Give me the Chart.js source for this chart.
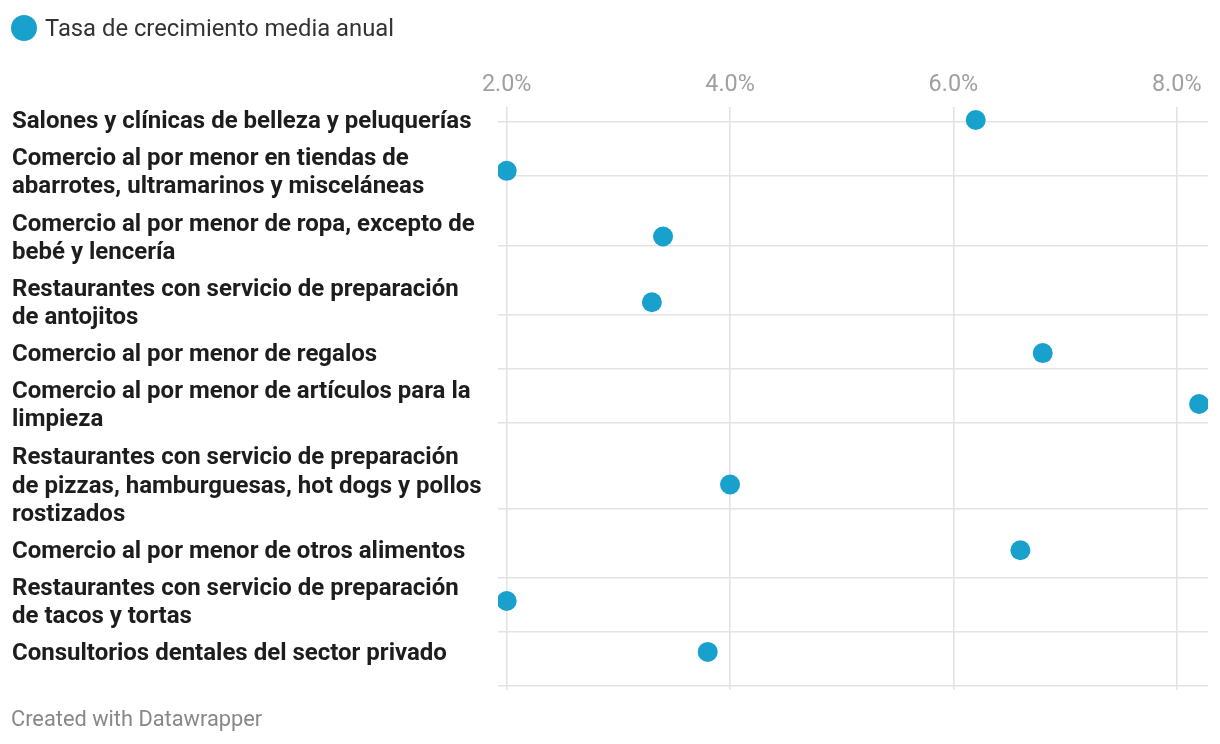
<!DOCTYPE html>
<html>
<head>
<meta charset="utf-8">
<script src="https://cdn.jsdelivr.net/npm/chart.js@4.4.0/dist/chart.umd.min.js"></script>
<style>
  html, body { margin: 0; padding: 0; background: #fff; }
  #wrap { position: relative; width: 1220px; height: 744px; font-family: Roboto, sans-serif; }
  #legend { position: absolute; left: 11px; top: 14px; display: flex; align-items: center; font-size: 23.8px; color: #333; }
  #legend .dot { width: 26px; height: 26px; border-radius: 50%; background: #18a1cd; margin-right: 8px; }
  #footer { position: absolute; left: 11px; top: 706px; font-size: 21.8px; color: #888; }
  #chartBox { position: absolute; left: 0; top: 0; width: 1220px; height: 744px; }
</style>
</head>
<body>
<div id="wrap">
  <div id="chartBox"><canvas id="myChart"></canvas></div>
  <div id="legend"><span class="dot"></span><span>Tasa de crecimiento media anual</span></div>
  <div id="footer">Created with Datawrapper</div>
</div>
<script>
// categorias (cada linea del rotulo como en el original)
var categorias = [
    "Salones y clínicas de belleza y peluquerías",
    ["Comercio al por menor en tiendas de", "abarrotes, ultramarinos y misceláneas"],
    ["Comercio al por menor de ropa, excepto de", "bebé y lencería"],
    ["Restaurantes con servicio de preparación", "de antojitos"],
    "Comercio al por menor de regalos",
    ["Comercio al por menor de artículos para la", "limpieza"],
    ["Restaurantes con servicio de preparación", "de pizzas, hamburguesas, hot dogs y pollos", "rostizados"],
    "Comercio al por menor de otros alimentos",
    ["Restaurantes con servicio de preparación", "de tacos y tortas"],
    "Consultorios dentales del sector privado"
];
var tasa = [6.2, 2.0, 3.4, 3.3, 6.8, 8.2, 4.0, 6.6, 2.0, 3.8];
var ticksX = [2, 4, 6, 8];
var serieNombre = "Tasa de crecimiento media anual";

// posicion vertical de cada fila segun el numero de lineas del rotulo
var lineas = categorias.map(function (c) { return Array.isArray(c) ? c.length : 1; });
function altoFila(n) { return 6.3 + 29.7 * n; }
var centros = [];
var pos = 13;
for (var i = 0; i < lineas.length; i++) {
    if (i > 0) pos += (altoFila(lineas[i - 1]) + altoFila(lineas[i])) / 2;
    centros.push(pos);
}

var puntos = tasa.map(function (v, i) { return { x: v, y: centros[i] }; });

var ctx = document.getElementById("myChart").getContext('2d');

var myChart = new Chart(ctx, {
    type: 'scatter',
    data: {
        datasets: [{
            label: serieNombre,
            data: puntos,
            backgroundColor: "#18a1cd",
            borderWidth: 0,
            pointRadius: 10,
            pointHoverRadius: 10,
            yAxisID: 'y'
        }]
    },
    options: {
        responsive: true,
        maintainAspectRatio: false,
        animation: false,
        layout: { padding: { top: 60, bottom: 54, left: 12, right: 12 } },
        plugins: {
            legend: { display: false },
            tooltip: { enabled: false }
        },
        scales: {
            x: {
                type: 'linear',
                position: 'top',
                min: 1.922,
                max: 8.28,
                afterBuildTicks: function (s) { s.ticks = ticksX.map(function (v) { return { value: v }; }); },
                afterFit: function (s) { s.height = 47; },
                ticks: {
                    padding: 8,
                    color: '#a0a0a0',
                    font: { family: 'Roboto', size: 23.4 },
                    callback: function (v) { return v.toFixed(1) + '%'; }
                },
                grid: { color: '#e3e3e3', lineWidth: 1.6, drawTicks: false },
                border: { display: false }
            },
            y: {
                type: 'linear',
                position: 'left',
                reverse: true,
                min: 0,
                max: 583,
                afterBuildTicks: function (s) { s.ticks = centros.map(function (v) { return { value: v }; }); },
                afterFit: function (s) { s.width = 486; },
                ticks: {
                    autoSkip: false,
                    crossAlign: 'far',
                    labelOffset: 2,
                    color: '#1d1d1d',
                    font: { family: 'Roboto', size: 24, weight: 'bold', lineHeight: 1.17 },
                    callback: function (v, idx) { return categorias[idx]; }
                },
                grid: { display: false },
                border: { display: false }
            },
            y2: {
                type: 'linear',
                position: 'left',
                reverse: true,
                min: -1.15,
                max: 548.6,
                afterBuildTicks: function (s) { s.ticks = centros.map(function (v) { return { value: v }; }); },
                afterFit: function (s) { s.width = 0; },
                ticks: { display: false, autoSkip: false },
                grid: { color: '#e3e3e3', lineWidth: 1.6, drawTicks: false },
                border: { display: false }
            }
        }
    }
});
</script>
</body>
</html>
